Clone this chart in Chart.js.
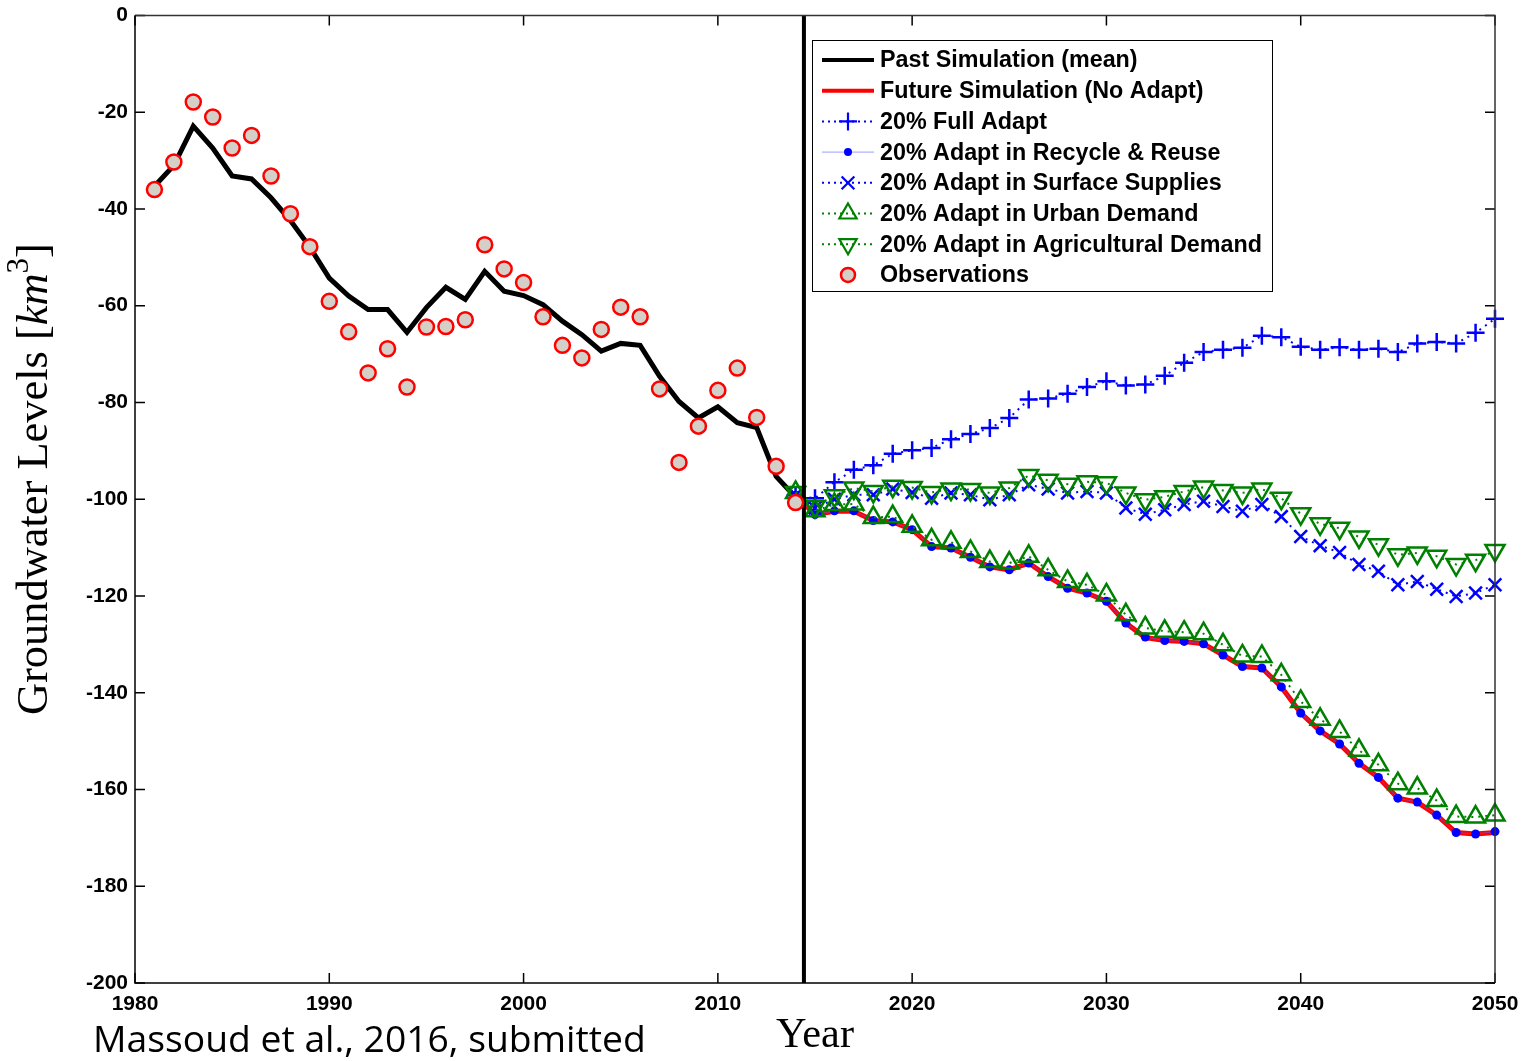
<!DOCTYPE html>
<html>
<head>
<meta charset="utf-8">
<script src="https://cdn.jsdelivr.net/npm/chart.js@4.4.0/dist/chart.umd.min.js"></script>
<style>
  html, body { margin: 0; padding: 0; background: #fff; }
  #wrap { width: 1528px; height: 1061px; }
</style>
</head>
<body>
<div id="wrap"><canvas id="chart" width="1528" height="1061"></canvas></div>
<script>
// groundwater levels, past + future scenarios (km^3)
const pastYears = [1981, 1982, 1983, 1984, 1985, 1986, 1987, 1988, 1989, 1990,
  1991, 1992, 1993, 1994, 1995, 1996, 1997, 1998, 1999, 2000,
  2001, 2002, 2003, 2004, 2005, 2006, 2007, 2008, 2009, 2010,
  2011, 2012, 2013, 2014];
const observed = [-36.0, -30.3, -17.9, -21.0, -27.4, -24.8, -33.2, -41.0, -47.8, -59.1,
  -65.4, -73.9, -68.9, -76.8, -64.4, -64.3, -62.9, -47.4, -52.4, -55.2,
  -62.3, -68.2, -70.8, -64.9, -60.3, -62.3, -77.2, -92.4, -84.9, -77.5,
  -72.9, -83.1, -93.2, -100.7];
const pastSim = [-35.3, -31.0, -22.9, -27.4, -33.2, -33.8, -37.7, -42.4, -47.9, -54.3,
  -58.0, -60.8, -60.8, -65.5, -60.4, -56.2, -58.7, -52.9, -57.0, -57.9,
  -59.8, -63.2, -66.0, -69.4, -67.8, -68.2, -74.6, -79.8, -83.2, -80.9,
  -84.2, -85.2, -95.3, -99.6];

const futureYears = [2014, 2015, 2016, 2017, 2018, 2019, 2020, 2021, 2022, 2023,
  2024, 2025, 2026, 2027, 2028, 2029, 2030, 2031, 2032, 2033,
  2034, 2035, 2036, 2037, 2038, 2039, 2040, 2041, 2042, 2043,
  2044, 2045, 2046, 2047, 2048, 2049, 2050];
const noAdapt = [-99.2, -103.2, -102.5, -102.5, -104.4, -104.7, -106.3, -109.8, -110.1, -112.0,
  -114.0, -114.6, -113.2, -116.0, -118.4, -119.4, -121.1, -125.6, -128.6, -129.2,
  -129.4, -129.9, -132.2, -134.6, -134.9, -138.8, -144.2, -147.9, -150.6, -154.6,
  -157.5, -161.8, -162.6, -165.3, -168.9, -169.2, -168.9];
const fullAdapt = [-99.2, -99.8, -96.5, -93.9, -93.0, -90.6, -89.9, -89.4, -87.6, -86.5,
  -85.3, -83.2, -79.4, -79.2, -78.2, -76.8, -75.6, -76.5, -76.3, -74.5,
  -71.8, -69.6, -69.1, -68.7, -66.2, -66.5, -68.5, -69.1, -68.6, -69.1,
  -68.9, -69.6, -67.8, -67.5, -67.8, -65.6, -62.7];
const recycleReuse = [-99.2, -103.2, -102.4, -102.4, -104.4, -104.7, -106.3, -109.8, -110.1, -112.0,
  -114.0, -114.6, -113.2, -116.0, -118.4, -119.4, -121.1, -125.6, -128.5, -129.2,
  -129.4, -129.9, -132.2, -134.6, -134.9, -138.8, -144.2, -147.9, -150.6, -154.6,
  -157.5, -161.8, -162.6, -165.3, -168.9, -169.2, -168.7];
const surfaceSupplies = [-99.2, -101.8, -100.0, -99.1, -99.1, -97.9, -98.6, -99.8, -98.7, -99.1,
  -100.1, -99.1, -97.0, -97.9, -98.7, -98.4, -98.7, -101.8, -103.1, -102.2,
  -101.1, -100.4, -101.5, -102.5, -101.1, -103.6, -107.7, -109.6, -111.0, -113.5,
  -114.9, -117.7, -117.0, -118.6, -120.1, -119.4, -117.7];
const urbanDemand = [-98.6, -102.4, -101.1, -101.0, -103.8, -103.6, -105.6, -108.4, -108.9, -110.8,
  -112.9, -113.2, -111.8, -114.6, -117.0, -117.7, -119.8, -123.9, -126.6, -127.3,
  -127.5, -127.8, -130.1, -132.4, -132.5, -136.3, -141.8, -145.5, -148.0, -151.9,
  -154.9, -158.8, -159.7, -162.3, -165.6, -165.7, -165.3];
const agriDemand = [-98.6, -101.5, -99.3, -97.7, -98.4, -97.3, -97.6, -98.6, -97.9, -98.0,
  -98.7, -97.7, -95.1, -96.1, -96.9, -96.4, -96.6, -98.7, -100.1, -99.5,
  -98.4, -97.5, -98.2, -98.7, -97.9, -99.8, -103.0, -105.1, -106.0, -107.8,
  -109.4, -111.5, -111.1, -111.8, -113.5, -112.6, -110.6];

const splitYear = 2014.43;
const xTicks = [1980, 1990, 2000, 2010, 2020, 2030, 2040, 2050];
const yTicks = [0, -20, -40, -60, -80, -100, -120, -140, -160, -180, -200];

const BLUE = '#0000ff';
const GREEN = '#008000';
const RED = '#ff0000';
const NONE = 'rgba(0,0,0,0)';

const pts = (xs, ys) => xs.map((x, i) => ({ x, y: ys[i] }));

// legend rows: label + how to draw the sample
const legendRows = [
  { text: 'Past Simulation (mean)', line: '#000', width: 4 },
  { text: 'Future Simulation (No Adapt)', line: RED, width: 4 },
  { text: '20% Full Adapt', line: BLUE, width: 2, dash: [2, 4], marker: { pointStyle: 'cross', radius: 9, borderWidth: 2.2 }, mColor: BLUE },
  { text: '20% Adapt in Recycle & Reuse', line: 'rgba(90,90,255,0.6)', width: 1, marker: { pointStyle: 'circle', radius: 4, borderWidth: 0 }, mColor: BLUE, fill: BLUE },
  { text: '20% Adapt in Surface Supplies', line: BLUE, width: 2, dash: [2, 4], marker: { pointStyle: 'crossRot', radius: 9, borderWidth: 2.2 }, mColor: BLUE },
  { text: '20% Adapt in Urban Demand', line: GREEN, width: 2, dash: [2, 4], marker: { pointStyle: 'triangle', radius: 10, borderWidth: 2.2 }, mColor: GREEN },
  { text: '20% Adapt in Agricultural Demand', line: GREEN, width: 2, dash: [2, 4], marker: { pointStyle: 'triangle', radius: 10, rotation: 180, borderWidth: 2.2 }, mColor: GREEN },
  { text: 'Observations', marker: { pointStyle: 'circle', radius: 7, borderWidth: 2.5 }, mColor: RED, fill: '#d4d0c8' }
];

function fitFont(ctx, text, family, weight, style, width) {
  ctx.font = `${style} ${weight} 100px ${family}`;
  return 100 * width / ctx.measureText(text).width;
}

const framePlugin = {
  id: 'frame',
  afterDatasetsDraw(chart) {
    const { ctx, chartArea: a, scales: { x, y } } = chart;
    ctx.save();
    ctx.lineWidth = 1.5;
    ctx.strokeStyle = '#000';
    ctx.beginPath();
    yTicks.forEach(v => {
      const py = y.getPixelForValue(v);
      ctx.moveTo(a.left, py); ctx.lineTo(a.left + 10, py);
      ctx.moveTo(a.right, py); ctx.lineTo(a.right - 10, py);
    });
    xTicks.forEach(v => {
      const px = x.getPixelForValue(v);
      ctx.moveTo(px, a.bottom); ctx.lineTo(px, a.bottom - 10);
      ctx.moveTo(px, a.top); ctx.lineTo(px, a.top + 10);
    });
    ctx.stroke();
    // top / right edges a bit lighter, like the original
    ctx.strokeStyle = '#333';
    ctx.beginPath();
    ctx.moveTo(a.left, a.top); ctx.lineTo(a.right, a.top); ctx.lineTo(a.right, a.bottom);
    ctx.stroke();
    ctx.strokeStyle = '#000';
    ctx.beginPath();
    ctx.moveTo(a.left, a.top); ctx.lineTo(a.left, a.bottom); ctx.lineTo(a.right, a.bottom);
    ctx.stroke();
    ctx.restore();
  },
  afterDraw(chart) {
    const { ctx } = chart;
    ctx.save();
    ctx.fillStyle = '#000';

    // y axis title with italic km and superscript 3
    const serif = '"Liberation Serif"';
    const parts = [
      { t: 'Groundwater Levels [', s: 'normal', k: 1 },
      { t: 'km', s: 'italic', k: 1 },
      { t: '3', s: 'normal', k: 0.7, up: 0.42 },
      { t: ']', s: 'normal', k: 1 }
    ];
    const widthAt = sz => parts.reduce((w, p) => {
      ctx.font = `${p.s} normal ${sz * p.k}px ${serif}`;
      return w + ctx.measureText(p.t).width;
    }, 0);
    const size = 40 * 472 / widthAt(40);
    ctx.translate(47, 715);
    ctx.rotate(-Math.PI / 2);
    ctx.textBaseline = 'alphabetic';
    let cx = 0;
    parts.forEach(p => {
      ctx.font = `${p.s} normal ${size * p.k}px ${serif}`;
      ctx.fillText(p.t, cx, p.up ? -size * p.up : 0);
      cx += ctx.measureText(p.t).width;
    });
    ctx.setTransform(1, 0, 0, 1, 0, 0);

    // x title
    const ys = fitFont(ctx, 'Year', serif, 'normal', 'normal', 78);
    ctx.font = `normal normal ${ys}px ${serif}`;
    ctx.textAlign = 'center';
    ctx.fillText('Year', 815, 1047);

    // citation
    const note = 'Massoud et al., 2016, submitted';
    const ns = fitFont(ctx, note, '"Open Sans"', 'normal', 'normal', 553);
    ctx.font = `normal normal ${ns}px "Open Sans"`;
    ctx.textAlign = 'left';
    ctx.fillText(note, 93, 1052);

    // legend
    const L = { x: 812, y: 40, w: 460, h: 251 };
    ctx.fillStyle = '#fff';
    ctx.fillRect(L.x, L.y, L.w, L.h);
    ctx.strokeStyle = '#000';
    ctx.lineWidth = 1;
    ctx.strokeRect(L.x + 0.5, L.y + 0.5, L.w, L.h);
    const fs = fitFont(ctx, '20% Adapt in Agricultural Demand', '"Liberation Sans"', 'bold', 'normal', 382);
    legendRows.forEach((r, i) => {
      const ry = 60 + i * 30.7;
      if (r.line) {
        ctx.save();
        ctx.strokeStyle = r.line;
        ctx.lineWidth = r.width;
        ctx.setLineDash(r.dash || []);
        ctx.beginPath();
        ctx.moveTo(822, ry); ctx.lineTo(874, ry);
        ctx.stroke();
        ctx.restore();
      }
      if (r.marker) {
        ctx.save();
        ctx.strokeStyle = r.mColor;
        ctx.fillStyle = r.fill || NONE;
        ctx.lineWidth = r.marker.borderWidth || 1;
        Chart.helpers.drawPoint(ctx, r.marker, 848, ry);
        ctx.restore();
      }
      ctx.fillStyle = '#000';
      ctx.font = `normal bold ${fs}px "Liberation Sans"`;
      ctx.textBaseline = 'middle';
      ctx.fillText(r.text, 880, ry + 1);
    });
    ctx.restore();
  }
};

const dotted = [2, 5];

new Chart(document.getElementById('chart'), {
  type: 'scatter',
  data: {
    datasets: [
      {
        label: 'Observations', data: pts(pastYears, observed), showLine: false,
        pointStyle: 'circle', pointRadius: 7.5, pointBorderWidth: 2.5,
        pointBorderColor: RED, pointBackgroundColor: '#d4d0c8', order: 0
      },
      {
        label: 'split', data: [{ x: splitYear, y: 0 }, { x: splitYear, y: -200 }], showLine: true,
        borderColor: '#000', borderWidth: 4, pointRadius: 0, order: 1
      },
      {
        label: '20% Adapt in Agricultural Demand', data: pts(futureYears, agriDemand), showLine: true,
        borderColor: GREEN, borderWidth: 2, borderDash: dotted,
        pointStyle: 'triangle', pointRotation: 180, pointRadius: 11, pointBorderWidth: 2.5,
        pointBorderColor: GREEN, pointBackgroundColor: NONE, order: 2, clip: false
      },
      {
        label: '20% Adapt in Urban Demand', data: pts(futureYears, urbanDemand), showLine: true,
        borderColor: GREEN, borderWidth: 2, borderDash: dotted,
        pointStyle: 'triangle', pointRadius: 11, pointBorderWidth: 2.5,
        pointBorderColor: GREEN, pointBackgroundColor: NONE, order: 3, clip: false
      },
      {
        label: '20% Adapt in Surface Supplies', data: pts(futureYears, surfaceSupplies), showLine: true,
        borderColor: BLUE, borderWidth: 2, borderDash: dotted,
        pointStyle: 'crossRot', pointRadius: 9, pointBorderWidth: 2.5,
        pointBorderColor: BLUE, pointBackgroundColor: NONE, order: 4, clip: false
      },
      {
        label: '20% Adapt in Recycle & Reuse', data: pts(futureYears, recycleReuse), showLine: true,
        borderColor: 'rgba(90,90,255,0.6)', borderWidth: 1,
        pointStyle: 'circle', pointRadius: 4.5, pointBorderWidth: 0,
        pointBorderColor: BLUE, pointBackgroundColor: BLUE, order: 5, clip: false
      },
      {
        label: '20% Full Adapt', data: pts(futureYears, fullAdapt), showLine: true,
        borderColor: BLUE, borderWidth: 2, borderDash: dotted,
        pointStyle: 'cross', pointRadius: 9, pointBorderWidth: 2.5,
        pointBorderColor: BLUE, pointBackgroundColor: NONE, order: 6, clip: false
      },
      {
        label: 'Future Simulation (No Adapt)', data: pts(futureYears, noAdapt), showLine: true,
        borderColor: RED, borderWidth: 5, pointRadius: 0, order: 7
      },
      {
        label: 'Past Simulation (mean)', data: pts(pastYears, pastSim), showLine: true,
        borderColor: '#000', borderWidth: 5, pointRadius: 0, order: 8
      }
    ]
  },
  options: {
    responsive: false,
    animation: false,
    devicePixelRatio: 1,
    layout: { padding: { top: 12, right: 33, left: 0, bottom: 0 } },
    plugins: { legend: { display: false }, tooltip: { enabled: false } },
    scales: {
      x: {
        type: 'linear', min: 1980, max: 2050,
        grid: { display: false, drawTicks: false },
        border: { display: false },
        afterBuildTicks(scale) { scale.ticks = xTicks.map(v => ({ value: v })); },
        afterFit(scale) { scale.height = 78; },
        ticks: {
          padding: 9, color: '#000',
          font: { family: '"Liberation Sans"', weight: 'bold', size: 21 },
          callback: v => String(v)
        }
      },
      y: {
        type: 'linear', min: -200, max: 0,
        grid: { display: false, drawTicks: false },
        border: { display: false },
        afterBuildTicks(scale) { scale.ticks = yTicks.map(v => ({ value: v })); },
        afterFit(scale) { scale.width = 135; },
        ticks: {
          padding: 7, color: '#000',
          font: { family: '"Liberation Sans"', weight: 'bold', size: 21, lineHeight: 0.8 },
          callback: v => String(v)
        }
      }
    }
  },
  plugins: [framePlugin]
});
</script>
</body>
</html>
